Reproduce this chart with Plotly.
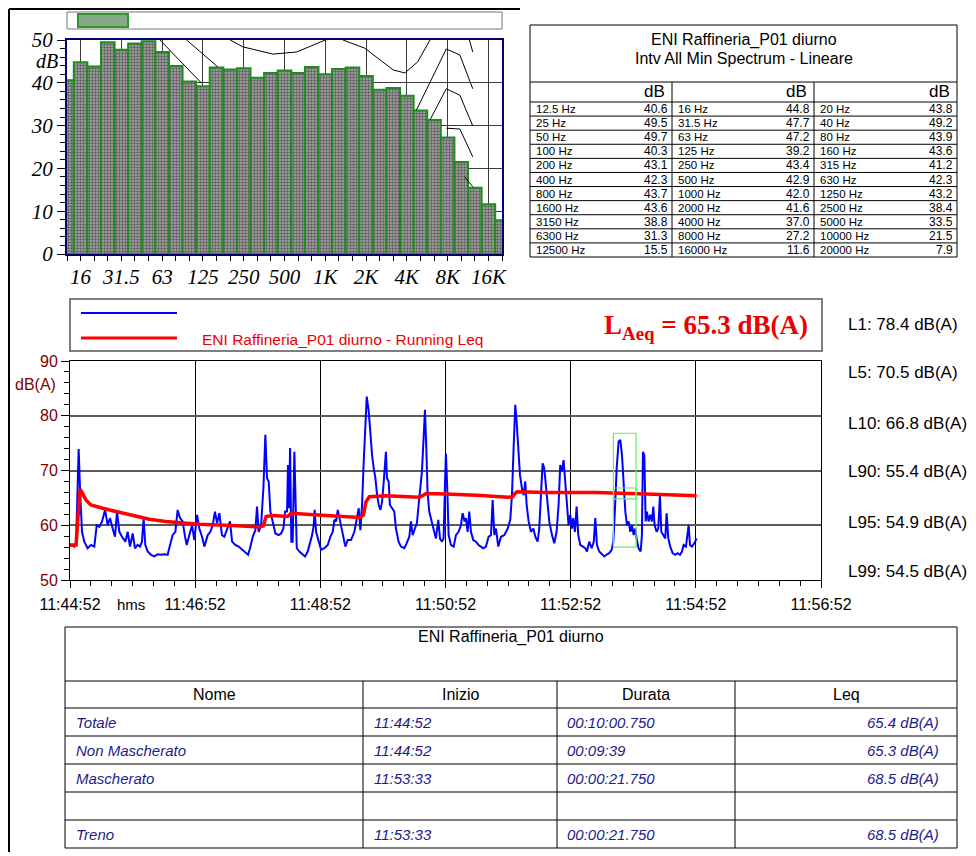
import plotly.graph_objects as go

W, H = 976, 856
OFF = 8  # page body margin of the html page
NARROW = "Liberation Sans Narrow, Arial Narrow, Liberation Sans, Arial, sans-serif"
SANS = "Liberation Sans, Arial, sans-serif"
SERIF = "Liberation Serif, Times New Roman, serif"

# ---------------- data ----------------
band_labels = ["12.5 Hz", "16 Hz", "20 Hz", "25 Hz", "31.5 Hz", "40 Hz", "50 Hz", "63 Hz", "80 Hz",
               "100 Hz", "125 Hz", "160 Hz", "200 Hz", "250 Hz", "315 Hz", "400 Hz", "500 Hz",
               "630 Hz", "800 Hz", "1000 Hz", "1250 Hz", "1600 Hz", "2000 Hz", "2500 Hz",
               "3150 Hz", "4000 Hz", "5000 Hz", "6300 Hz", "8000 Hz", "10000 Hz", "12500 Hz",
               "16000 Hz", "20000 Hz"]
band_values = [40.6, 44.8, 43.8, 49.5, 47.7, 49.2, 49.7, 47.2, 43.9, 40.3, 39.2, 43.6, 43.1,
               43.4, 41.2, 42.3, 42.9, 42.3, 43.7, 42.0, 43.2, 43.6, 41.6, 38.4, 38.8, 37.0,
               33.5, 31.3, 27.2, 21.5, 15.5, 11.6, 7.9]
octave_tick_idx = [1, 4, 7, 10, 13, 16, 19, 22, 25, 28, 31]
octave_tick_text = ["16", "31.5", "63", "125", "250", "500", "1K", "2K", "4K", "8K", "16K"]
spec_yticks = [0, 10, 20, 30, 40, 50]

# reference curves drawn over the spectrum (band index, dB) - visible parts only
ref_curves_x = [[6.84, 9.9], [8.8, 11.1], [12.0, 12.94, 15.15, 16.9, 19.0],
                [20.3, 21.9, 24.0, 24.85, 25.8, 26.7], [25.7, 27.9, 28.9, 29.85],
                [26.7, 27.9, 28.9, 29.85], [27.9, 28.9, 29.85], [29.26, 29.85], [29.6, 29.85]]
ref_curves_y = [[50, 39.9], [50, 43.7], [50, 48.4, 46.7, 47.2, 50],
                [50, 48.1, 43.0, 42.3, 44.9, 50], [33.6, 47.9, 46.5, 38.6],
                [31.3, 38.6, 37.1, 29.9], [29.4, 29.2, 22.7], [18.0, 15.7], [50, 47.2]]

spectrum_title = ["ENI Raffineria_P01 diurno", "Intv All Min Spectrum - Lineare"]

# time history (seconds after 11:44:52)
t_sec = [0, 4.2, 5.8, 7.0, 8.3, 9.6, 11.5, 13.7, 16.9, 20.1, 23.3, 25.6, 28.1, 30.7, 33.6, 36.1,
         38.4, 40.9, 43.1, 45.1, 47.3, 49.9, 53.1, 55.3, 57.5, 60.1, 62.3, 64.9, 67.1, 69.0, 70.6,
         72.2, 74.5, 77.7, 80.9, 84.1, 87.2, 90.4, 93.6, 95.9, 98.4, 101.0, 103.2, 105.5, 108.0,
         110.3, 111.9, 114.4, 117.0, 119.2, 121.8, 124.0, 126.6, 128.8, 132.0, 134.5, 136.8,
         139.0, 141.0, 143.2, 145.7, 148.0, 151.2, 153.4, 155.4, 158.5, 161.7, 164.9, 168.1,
         170.7, 172.6, 175.2, 177.7, 179.3, 180.9, 183.2, 185.4, 187.3, 188.9, 190.5, 192.1,
         194.3, 196.9, 200.1, 202.3, 204.6, 206.2, 208.1, 209.0, 210.0, 211.0, 212.2, 213.5,
         215.1, 216.4, 217.4, 219.9, 223.1, 225.3, 227.9, 230.5, 232.1, 233.7, 234.6, 235.9,
         238.4, 240.7, 243.9, 247.1, 249.6, 251.9, 253.5, 255.1, 256.7, 258.3, 259.9, 261.5,
         264.0, 266.3, 269.4, 272.6, 274.9, 276.8, 278.4, 280.0, 281.6, 283.2, 284.5, 286.4,
         288.0, 289.6, 291.2, 292.8, 294.4, 296.0, 297.6, 299.2, 300.8, 301.7, 302.9, 303.9,
         305.5, 306.7, 308.6, 310.9, 312.5, 315.0, 317.3, 320.5, 322.7, 325.3, 326.9, 328.5,
         330.7, 332.6, 333.9, 335.5, 337.4, 339.0, 340.3, 341.6, 342.8, 344.4, 346.7, 348.6,
         350.8, 353.1, 354.7, 356.6, 358.2, 359.5, 360.4, 361.7, 363.0, 365.2, 367.8, 370.0,
         372.6, 374.8, 376.4, 378.3, 379.6, 381.2, 382.8, 384.4, 386.6, 389.2, 391.7, 393.9,
         396.2, 398.8, 401.3, 403.6, 405.2, 406.8, 408.4, 410.6, 413.2, 416.4, 419.6, 422.1,
         423.7, 425.3, 426.9, 428.2, 429.8, 431.4, 433.3, 434.9, 436.5, 437.8, 439.7, 441.9,
         444.2, 446.1, 448.3, 449.9, 451.5, 453.1, 454.7, 456.3, 457.9, 459.5, 462.1, 464.3,
         466.5, 468.4, 470.0, 471.6, 473.2, 474.8, 476.4, 478.0, 479.6, 481.2, 482.5, 484.1,
         485.7, 487.3, 489.2, 491.5, 494.0, 495.6, 497.8, 500.1, 502.2, 503.6, 505.2, 507.4,
         510.0, 512.2, 514.8, 517.0, 519.3, 520.9, 522.5, 524.1, 526.0, 527.6, 529.2, 530.8,
         532.4, 534.0, 535.6, 537.2, 538.8, 540.4, 542.0, 543.2, 545.1, 547.1, 548.3, 549.3,
         550.6, 551.9, 553.1, 554.7, 556.3, 557.9, 559.2, 560.5, 562.4, 564.0, 565.6, 566.9,
         568.8, 570.7, 572.0, 573.6, 575.5, 577.7, 580.3, 582.5, 584.8, 586.7, 588.3, 590.5,
         593.1, 594.4, 596.3, 598.5, 600.8]
laeq = [56.5, 56.1, 56.6, 66.0, 73.9, 66.7, 58.8, 57.0, 55.8, 56.4, 56.1, 60.0, 59.7, 60.7, 62.8,
        60.0, 61.3, 59.4, 57.9, 62.5, 58.8, 57.9, 57.0, 58.8, 56.1, 58.5, 55.8, 56.4, 56.1, 57.0,
        61.3, 56.4, 55.2, 54.6, 54.3, 54.7, 54.6, 54.7, 54.6, 56.4, 58.2, 58.8, 62.8, 61.3, 60.7,
        57.9, 56.4, 58.2, 60.0, 57.3, 61.9, 59.4, 57.9, 56.1, 58.2, 58.8, 60.0, 62.5, 60.4, 62.2,
        58.2, 57.9, 59.4, 60.7, 57.0, 56.4, 56.1, 55.5, 54.9, 54.6, 55.8, 57.9, 59.1, 63.4, 58.8,
        60.0, 66.7, 76.5, 68.6, 68.0, 62.5, 60.7, 58.5, 58.2, 58.5, 59.4, 62.5, 62.5, 71.0, 63.1,
        74.1, 57.0, 57.0, 73.4, 65.5, 55.8, 55.2, 54.6, 54.3, 55.2, 57.0, 58.2, 60.0, 62.8, 58.8,
        57.0, 55.5, 55.8, 56.4, 57.9, 58.8, 61.0, 60.7, 62.8, 61.3, 59.4, 58.2, 56.1, 57.3, 57.3,
        58.8, 61.0, 63.1, 59.1, 63.7, 71.6, 78.9, 83.5, 80.8, 75.9, 72.8, 70.4, 68.6, 65.5, 63.7,
        62.8, 64.3, 68.0, 70.4, 73.4, 68.6, 68.0, 63.7, 63.1, 62.5, 59.4, 57.0, 56.1, 55.8, 56.7,
        57.9, 60.7, 58.2, 59.4, 60.4, 63.1, 66.7, 69.8, 75.9, 81.1, 74.1, 66.1, 62.5, 60.7, 58.8,
        57.6, 61.0, 57.6, 57.0, 57.6, 67.4, 73.1, 66.7, 58.2, 56.4, 56.1, 58.2, 58.8, 60.0, 62.2,
        60.7, 61.3, 58.8, 62.5, 58.8, 57.3, 57.0, 56.4, 56.1, 55.8, 56.1, 57.9, 58.2, 64.6, 58.2,
        59.4, 56.1, 57.9, 58.2, 59.4, 61.0, 65.5, 74.1, 82.0, 78.9, 73.4, 69.2, 66.7, 65.5, 68.0,
        63.7, 60.7, 58.8, 59.4, 57.9, 57.0, 59.4, 65.5, 71.3, 70.4, 67.0, 63.7, 60.7, 58.2, 56.7,
        58.8, 63.7, 71.0, 69.8, 71.9, 68.0, 63.7, 60.0, 61.9, 59.4, 61.3, 58.8, 63.4, 58.2, 56.4,
        56.1, 55.8, 55.2, 57.0, 55.8, 57.0, 61.3, 56.4, 55.2, 54.6, 54.3, 54.7, 54.9, 55.5, 57.0,
        63.1, 70.4, 75.3, 75.6, 72.8, 66.7, 62.5, 60.0, 60.7, 58.8, 60.0, 58.2, 59.4, 57.6, 55.8,
        55.2, 58.2, 73.4, 72.8, 60.7, 62.5, 60.7, 61.9, 60.7, 63.4, 60.0, 58.8, 59.4, 65.5, 58.8,
        58.2, 57.6, 62.2, 57.6, 56.1, 54.9, 54.6, 54.9, 54.6, 55.2, 56.4, 56.1, 60.0, 56.4, 56.1,
        56.7, 57.6]
run_t = [0, 5.8, 7.5, 9.6, 12.1, 15.3, 20.1, 24.9, 31.3, 44.1, 60.1, 76.1, 92.0, 108.0, 124.0,
         149.6, 165.6, 181.6, 185.4, 188.0, 194.3, 208.7, 211.9, 223.1, 245.5, 277.4, 281.3,
         283.8, 287.0, 302.9, 334.9, 338.1, 341.3, 360.0, 390.0, 420.0, 424.3, 427.0, 429.0,
         456.3, 504.2, 552.2, 600.8]
run_leq = [56.4, 56.4, 61.0, 66.6, 65.8, 64.6, 63.7, 63.4, 63.1, 62.5, 61.8, 61.1, 60.7, 60.4,
           60.2, 60.0, 59.9, 59.7, 59.9, 61.6, 61.8, 61.6, 62.2, 62.1, 61.8, 61.4, 61.9, 64.3,
           65.2, 65.4, 65.1, 65.4, 65.8, 65.7, 65.5, 65.1, 65.2, 65.9, 66.1, 66.0, 66.0, 65.7,
           65.4]
time_ticks = [0, 120, 240, 360, 480, 600, 720]
time_tick_text = ["11:44:52", "11:46:52", "11:48:52", "11:50:52", "11:52:52", "11:54:52", "11:56:52"]
level_ticks = [50, 60, 70, 80, 90]
mask_t = [521.0, 542.75]
mask_boxes = [[64.8, 76.8], [56.0, 66.8]]

percentile_names = ["L1", "L5", "L10", "L90", "L95", "L99"]
percentile_values = [78.4, 70.5, 66.8, 55.4, 54.9, 54.5]
laeq_total = 65.3
series_name = "ENI Raffineria_P01 diurno - Running Leq"

summary_title = "ENI Raffineria_P01 diurno"
summary_cols = ["Nome", "Inizio", "Durata", "Leq"]
summary_nome = ["Totale", "Non Mascherato", "Mascherato", "", "Treno"]
summary_inizio = ["11:44:52", "11:44:52", "11:53:33", "", "11:53:33"]
summary_durata = ["00:10:00.750", "00:09:39", "00:00:21.750", "", "00:00:21.750"]
summary_leq = ["65.4 dB(A)", "65.3 dB(A)", "68.5 dB(A)", "", "68.5 dB(A)"]


# ---------------- helpers (page pixels -> paper fractions) ----------------
def X(p):
    return (p - OFF) / W


def Y(p):
    return 1 - (p - OFF) / H


shapes = []
annotations = []


def line(x0, y0, x1, y1, color="black", width=1):
    shapes.append(dict(type="line", xref="paper", yref="paper", x0=X(x0), y0=Y(y0),
                       x1=X(x1), y1=Y(y1), line=dict(color=color, width=width)))


def rect(x0, y0, x1, y1, color="black", width=1, fill="rgba(0,0,0,0)"):
    shapes.append(dict(type="rect", xref="paper", yref="paper", x0=X(x0), y0=Y(y0),
                       x1=X(x1), y1=Y(y1), line=dict(color=color, width=width), fillcolor=fill))


def txt(x, y, s, size, color="black", anchor="left", family=NARROW, style="normal",
        weight="normal"):
    if not s:
        return
    annotations.append(dict(x=X(x), y=Y(y), xref="paper", yref="paper", text=s,
                            showarrow=False, xanchor=anchor, yanchor="middle",
                            font=dict(size=size, color=color, family=family, style=style,
                                      weight=weight)))


fig = go.Figure()

# ---------------- spectrum bar chart ----------------
fig.add_trace(go.Bar(
    x=list(range(len(band_values))), y=band_values, width=1, xaxis="x", yaxis="y",
    marker=dict(color="#8c8c8c", line=dict(color="#1e8c1e", width=2),
                pattern=dict(shape=".", fgcolor="#111111", bgcolor="#a8a8a8", size=3,
                             solidity=0.5)),
    showlegend=False, hoverinfo="skip"))
for cx, cy in zip(ref_curves_x, ref_curves_y):
    fig.add_trace(go.Scatter(x=cx, y=cy, mode="lines", xaxis="x", yaxis="y",
                             line=dict(color="black", width=1), showlegend=False,
                             hoverinfo="skip"))

# ---------------- time history ----------------
fig.add_trace(go.Scatter(x=t_sec, y=laeq, mode="lines", xaxis="x2", yaxis="y2",
                         line=dict(color="#0000ff", width=2), showlegend=False))
fig.add_trace(go.Scatter(x=run_t, y=run_leq, mode="lines", xaxis="x2", yaxis="y2",
                         line=dict(color="#ff0000", width=3.5), showlegend=False))
for lo, hi in mask_boxes:
    shapes.append(dict(type="rect", xref="x2", yref="y2", x0=mask_t[0], x1=mask_t[1],
                       y0=lo, y1=hi, line=dict(color="#66ee66", width=1.2)))

# ---------------- page frame (drawn at the first visible pixels) ----------------
line(9, 9, 9, 852, width=2)
line(9, 9, 520, 9, width=2)

# spectrum legend box
rect(67, 12, 502, 29, color="#777777", width=1)
rect(78, 14, 128, 27, color="#2e9a2e", width=2, fill="#86a886")

# dB label on spectrum axis
annotations.append(dict(x=0, y=45, xref="x domain", yref="y", text="dB", showarrow=False,
                        xanchor="right", yanchor="middle", xshift=-7,
                        font=dict(size=20, family=SERIF, style="italic", color="black")))

# ---------------- spectrum table ----------------
tl, tr, tt, t_title_b, t_head_b, tb = 530, 957, 25, 82, 102, 257
col_edges = [530, 672, 814, 957]
rect(tl, tt, tr, tb)
line(tl, t_title_b, tr, t_title_b)
line(tl, t_head_b, tr, t_head_b)
nrows = 11
rh = (tb - t_head_b) / nrows
for r in range(1, nrows):
    line(tl, t_head_b + r * rh, tr, t_head_b + r * rh)
for ce in col_edges[1:-1]:
    line(ce, t_title_b, ce, tb)
txt((tl + tr) / 2, 40, spectrum_title[0], 16, anchor="center")
txt((tl + tr) / 2, 58, spectrum_title[1], 16, anchor="center")
for c in range(3):
    txt(col_edges[c + 1] - 5, 92, "dB", 17, anchor="right")
    for r in range(nrows):
        i = r * 3 + c
        yc = t_head_b + (r + 0.5) * rh
        txt(col_edges[c] + 4, yc, band_labels[i], 11.5, anchor="left")
        txt(col_edges[c + 1] - 2, yc, f"{band_values[i]:.1f}", 12, anchor="right")

# ---------------- time-history legend ----------------
rect(70, 299, 822, 351, color="#555555", width=1.5)
line(81, 313, 177, 313, color="#0000ff", width=2)
line(81, 338, 177, 338, color="#ff0000", width=3)
txt(200, 339, series_name, 15.5, color="#ee0000")
txt(810, 327, f"L<sub>Aeq</sub> = {laeq_total} dB(A)", 27, color="#ee0000", anchor="right",
    family=SERIF, weight="bold")

# percentile levels
pct_y = [325, 372, 423, 472, 522, 571]
for name, val, yy in zip(percentile_names, percentile_values, pct_y):
    txt(846, yy, f"{name}: {val} dB(A)", 17)

# axis unit labels for the time history
annotations.append(dict(x=0, y=85.7, xref="x2 domain", yref="y2", text="dB(A)",
                        showarrow=False, xanchor="right", yanchor="middle", xshift=-12,
                        font=dict(size=16, family=SANS, color="#800000")))
txt(131, 604, "hms", 15, anchor="center")

# ---------------- summary table ----------------
bl, br, bt, b_title_b, b_head_b = 65, 957, 627, 681, 708
brh = 28
bcols = [65, 363, 557, 735, 957]
nsum = len(summary_nome)
bb = b_head_b + nsum * brh
rect(bl, bt, br, bb)
line(bl, b_title_b, br, b_title_b)
line(bl, b_head_b, br, b_head_b)
for r in range(1, nsum):
    line(bl, b_head_b + r * brh, br, b_head_b + r * brh)
for ce in bcols[1:-1]:
    line(ce, b_title_b, ce, bb)
txt((bl + br) / 2, 637, summary_title, 16, anchor="center")
for c, name in enumerate(summary_cols):
    txt((bcols[c] + bcols[c + 1]) / 2, (b_title_b + b_head_b) / 2, name, 16, anchor="center")
NAVY = "#1c1c8c"
for r in range(nsum):
    yc = b_head_b + (r + 0.5) * brh
    txt(bcols[0] + 9, yc, summary_nome[r], 15, color=NAVY, style="italic")
    txt(bcols[1] + 9, yc, summary_inizio[r], 15, color=NAVY, style="italic")
    txt(bcols[2] + 8, yc, summary_durata[r], 15, color=NAVY, style="italic")
    txt(bcols[4] - 16, yc, summary_leq[r], 15, color=NAVY, style="italic", anchor="right")

# ---------------- layout ----------------
fig.update_layout(
    width=W, height=H, margin=dict(l=0, r=0, t=0, b=0, autoexpand=False),
    paper_bgcolor="white", plot_bgcolor="white", showlegend=False,
    shapes=shapes, annotations=annotations,
    xaxis=dict(domain=[X(67), X(502)], anchor="y", range=[0, len(band_values) - 1],
               automargin=False,
               tickmode="array", tickvals=octave_tick_idx, ticktext=octave_tick_text,
               ticks="outside", ticklen=5, tickcolor="black",
               minor=dict(tick0=0, dtick=1, ticks="outside", ticklen=5, tickcolor="black",
                          showgrid=False),
               showgrid=True, gridcolor="#3c3c3c", gridwidth=1, zeroline=False,
               showline=True, mirror=True, linecolor="#00006e", linewidth=2,
               tickfont=dict(family=SERIF, size=21, style="italic", color="black"),
               ticklabelstandoff=-2),
    yaxis=dict(domain=[Y(254), Y(40)], anchor="x", range=[0, 50], tickmode="array",
               automargin=False,
               tickvals=spec_yticks, ticks="outside", ticklen=8, tickcolor="black",
               minor=dict(dtick=2, ticks="outside", ticklen=5, tickcolor="black",
                          showgrid=False),
               showgrid=True, gridcolor="#3c3c3c", gridwidth=1, zeroline=False,
               showline=True, mirror=True, linecolor="#00006e", linewidth=2,
               tickfont=dict(family=SERIF, size=21, style="italic", color="black")),
    xaxis2=dict(domain=[X(70), X(821)], anchor="y2", range=[0, 720], tickmode="array",
                automargin=False,
                tickvals=time_ticks, ticktext=time_tick_text, ticks="outside", ticklen=7,
                tickcolor="black",
                minor=dict(tick0=0, dtick=20, ticks="outside", ticklen=5, tickcolor="black",
                           showgrid=False),
                showgrid=True, gridcolor="black", gridwidth=1, zeroline=False,
                showline=True, mirror=True, linecolor="black", linewidth=1,
                tickfont=dict(family=NARROW, size=16, color="black"),
                ticklabelstandoff=3),
    yaxis2=dict(domain=[Y(580), Y(361)], anchor="x2", range=[50, 90], tickmode="array",
                automargin=False,
                tickvals=level_ticks, ticks="outside", ticklen=8, tickcolor="black",
                minor=dict(dtick=2, ticks="outside", ticklen=5, tickcolor="black",
                           showgrid=False),
                showgrid=True, gridcolor="#5a5a5a", gridwidth=2, zeroline=False,
                showline=True, mirror=True, linecolor="black", linewidth=1,
                tickfont=dict(family=SANS, size=16, color="#800000")),
)

fig.write_html("out.html")
